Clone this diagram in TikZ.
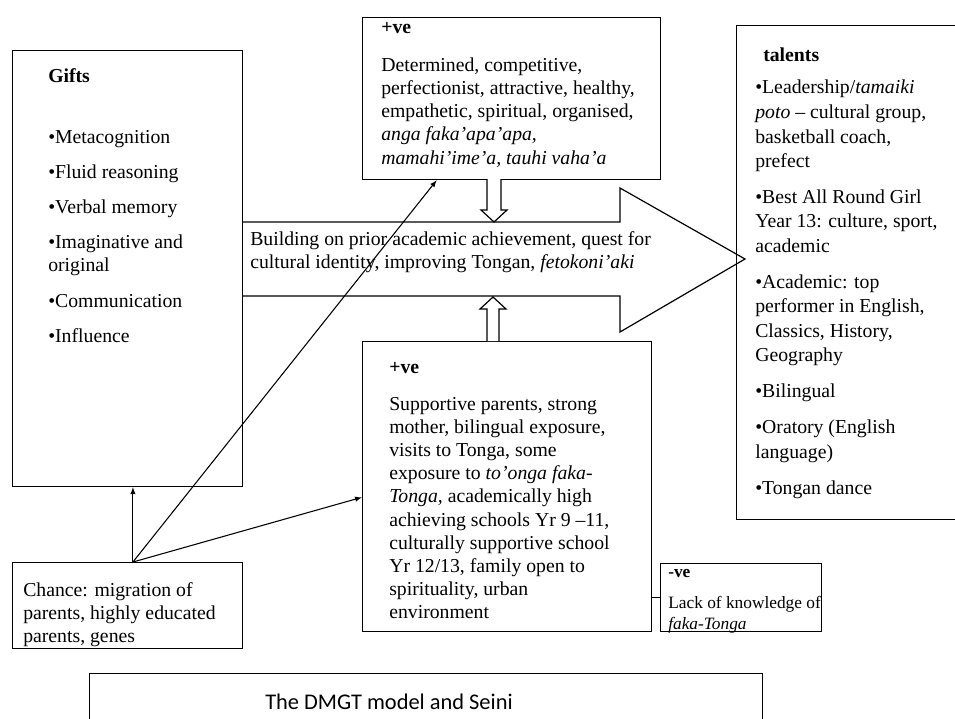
\documentclass[tikz,border=0pt]{standalone}
\usepackage{fontspec}
\setmainfont{Liberation Serif}
\setsansfont{Carlito}

\tikzset{
  box/.style={draw,line width=0.9pt,anchor=north west,inner sep=0pt},
  txt/.style={anchor=north west,inner sep=0pt,align=left,
    font=\fontsize{14.8}{17.4}\selectfont},
  smalltxt/.style={txt,font=\fontsize{13}{15.75}\selectfont},
  link/.style={draw,line width=0.8pt,-latex},
  hollow/.style={draw,line width=0.9pt,fill=white},
}

\begin{document}
\begin{tikzpicture}[x=0.75pt,y=-0.75pt]
\clip (0,0) rectangle (955,718);
\path
    (12,50) node [box,minimum width=172.5pt,minimum height=327pt] (gifts) {}
    +(36,16) node [txt] (giftlist) {\strut\textbf{Gifts}\\[28pt]
      •Metacognition\\[9pt]
      •Fluid reasoning\\[9pt]
      •Verbal memory\\[9pt]
      •Imaginative and\\
      original\\[9pt]
      •Communication\\[9pt]
      •Influence};
\path
    (362,17) node [box,minimum width=223.5pt,minimum height=121.5pt] (intra) {}
    +(19,0) node [txt] (intralist) {\strut\textbf{+ve}\\[11pt]
      Determined, competitive,\\
      perfectionist, attractive, healthy,\\
      empathetic, spiritual, organised,\\
      \textit{anga faka'apa'apa,}\\
      \textit{mamahi'ime'a, tauhi vaha'a}};
\path
    (362,341) node [box,minimum width=216.75pt,minimum height=217.5pt] (envir) {}
    +(27,16) node [txt] (envirlist) {\strut\textbf{+ve}\\[10pt]
      Supportive parents, strong\\
      mother, bilingual exposure,\\
      visits to Tonga, some\\
      exposure to \textit{to'onga faka-}\\
      \textit{Tonga,} academically high\\
      achieving schools Yr 9 –11,\\
      culturally supportive school\\
      Yr 12/13, family open to\\
      spirituality, urban\\
      environment};
\path
    (660,563) node [box,minimum width=120.75pt,minimum height=51pt] (minus) {}
    +(8,0) node [smalltxt] (minuslist) {\strut\textbf{-ve}\\[7pt]
      Lack of knowledge of\\
      \textit{faka-Tonga}};
\path
    (736,25) node [box,minimum width=172.5pt,minimum height=370.5pt] (talents) {}
    +(19,19) node [txt,font=\fontsize{14.8}{18.4}\selectfont] (talentlist)
    {\strut\hspace*{6pt}\textbf{talents}\\[6pt]
      •Leadership/\textit{tamaiki}\\
      \textit{poto} – cultural group,\\
      basketball coach,\\
      prefect\\[8.5pt]
      •Best All Round Girl\\
      Year 13: culture, sport,\\
      academic\\[8.5pt]
      •Academic: top\\
      performer in English,\\
      Classics, History,\\
      Geography\\[8.5pt]
      •Bilingual\\[8.5pt]
      •Oratory (English\\
      language)\\[8.5pt]
      •Tongan dance};
\path
    (12,562) node [box,minimum width=172.5pt,minimum height=64.5pt] (chance) {}
    +(11,18) node [txt] (chancetxt) {\strut Chance: migration of\\
      parents, highly educated\\
      parents, genes};
\path
    (89,673) node [box,minimum width=504.75pt,minimum height=45pt] (title) {}
    (389,702) node [font=\sffamily\fontsize{16.8}{19}\selectfont] (titletxt)
      {The DMGT model and Seini};

% developmental process arrow
\draw [line width=0.9pt] (242,222) -- (620,222) -- (620,188) -- (745,259)
    -- (620,332) -- (620,296) -- (242,296);
\path (242,222) +(8,7) node [txt] (growth)
    {\strut Building on prior academic achievement, quest for\\
     cultural identity, improving Tongan, \textit{fetokoni'aki}};

% catalysts feeding the process
\draw [hollow] (487,179) -- (487,210) -- (481,210) -- (494,222)
    -- (507,210) -- (501,210) -- (501,179);
\draw [hollow] (487,341) -- (487,309) -- (480,309) -- (493,297)
    -- (506,309) -- (499,309) -- (499,341);

% chance
\draw [link] ([xshift=4pt]chance.north) -- ([xshift=4pt]gifts.south);
\draw [link] ([xshift=4pt]chance.north) -- ([xshift=56pt]intra.south west);
\draw [link] ([xshift=4pt]chance.north) -- ([yshift=-8pt]envir.west);
\draw [line width=0.9pt] (envir.east |- minus.west) -- (minus.west);
\end{tikzpicture}
\end{document}
